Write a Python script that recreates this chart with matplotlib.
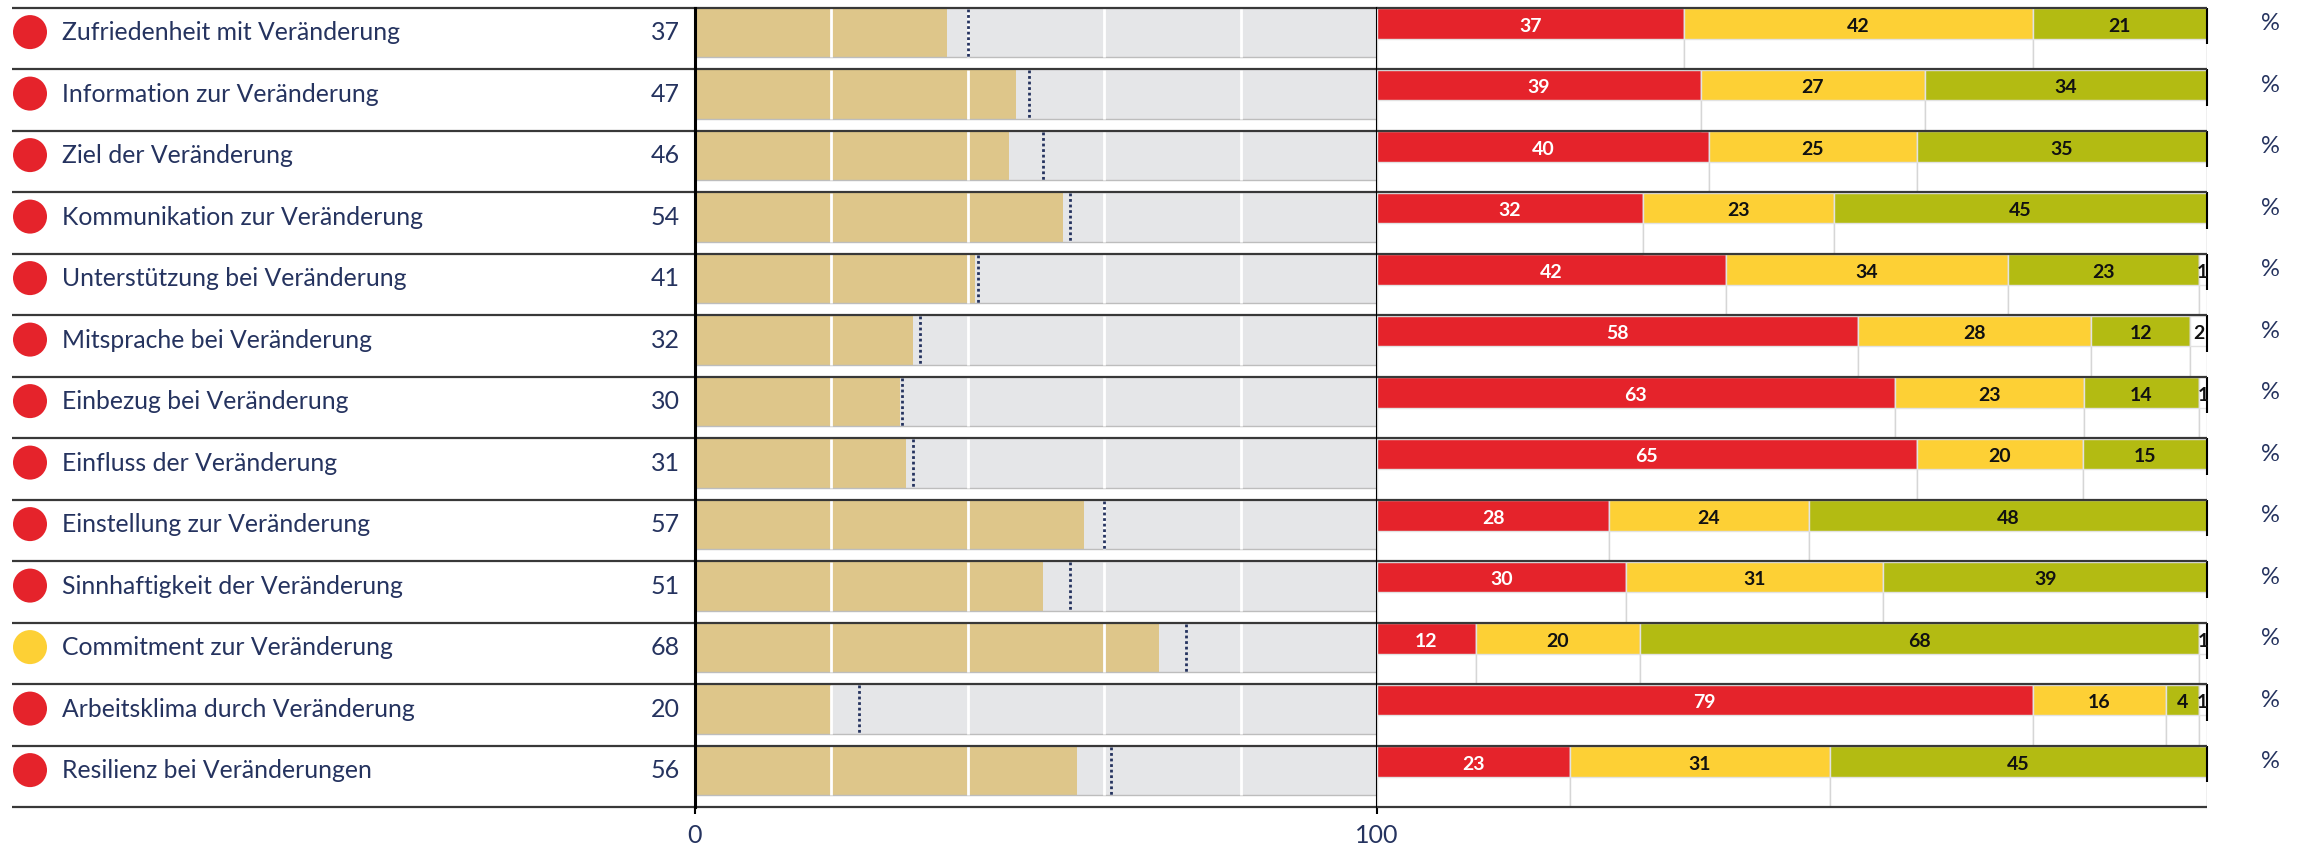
import matplotlib.pyplot as plt
import numpy as np

plt.rcParams['font.family'] = ['Lato', 'DejaVu Sans']

labels = ["Zufriedenheit mit Veränderung", "Information zur Veränderung", "Ziel der Veränderung",
          "Kommunikation zur Veränderung", "Unterstützung bei Veränderung", "Mitsprache bei Veränderung",
          "Einbezug bei Veränderung", "Einfluss der Veränderung", "Einstellung zur Veränderung",
          "Sinnhaftigkeit der Veränderung", "Commitment zur Veränderung", "Arbeitsklima durch Veränderung",
          "Resilienz bei Veränderungen"]
scores = [37, 47, 46, 54, 41, 32, 30, 31, 57, 51, 68, 20, 56]
benchmark = [40, 49, 51, 55, 41.5, 33, 30.3, 32, 60, 55, 72, 24, 61]
status = ['red'] * 10 + ['yellow'] + ['red'] * 2

neg = [37, 39, 40, 32, 42, 58, 63, 65, 28, 30, 12, 79, 23]
mid = [42, 27, 25, 23, 34, 28, 23, 20, 24, 31, 20, 16, 31]
pos = [21, 34, 35, 45, 23, 12, 14, 15, 48, 39, 68, 4, 45]
rest = [0, 0, 0, 0, 1, 2, 1, 0, 0, 0, 1, 1, 0]

RED = '#E5232B'
YEL = '#FDD035'
GRN = '#B3BB12'
TAN = '#DEC68A'
GRAY = '#E5E6E8'
NAVY = '#25335F'
SEP = '#383838'

W, H = 2303, 848
n = len(labels)
y = np.arange(n)

fig = plt.figure(figsize=(W / 100, H / 100), dpi=100)
b = 1 - 807 / H
h = (807 - 7.5) / H
ax_lab = fig.add_axes([0, b, 695 / W, h])
ax_bar = fig.add_axes([695 / W, b, 682 / W, h])
ax_stk = fig.add_axes([1377 / W, b, 830 / W, h])

for ax in (ax_lab, ax_bar, ax_stk):
    ax.set_ylim(n, 0)

# label column
ax_lab.set_xlim(0, 695)
ax_lab.axis('off')
dot_col = {'red': RED, 'yellow': YEL}
ax_lab.scatter(np.full(n, 30), y + 0.40, s=600, c=[dot_col[s] for s in status], edgecolors='none')
for i in range(n):
    ax_lab.text(62, i + 0.53, labels[i], fontsize=17.8, color=NAVY, va='baseline')
    ax_lab.text(680, i + 0.53, str(scores[i]), fontsize=18, color=NAVY, va='baseline', ha='right')
ax_lab.hlines(np.arange(n + 1), 12, 695, color=SEP, lw=1.6, clip_on=False)

# score bars
ax_bar.set_xlim(0, 100)
ax_bar.barh(y + 0.41, 100, height=0.79, color=GRAY)
ax_bar.barh(y + 0.41, scores, height=0.79, color=TAN)
ax_bar.hlines(y + 0.805, 0, 100, color='#BDBDBD', lw=1)
for g in (20, 40, 60, 80):
    ax_bar.vlines(np.full(n, g), y + 0.015, y + 0.805, color='white', lw=2)
ax_bar.vlines(benchmark, y + 0.02, y + 0.80, colors=NAVY, linestyles=(0, (1, 1)), lw=2)
ax_bar.hlines(np.arange(n + 1), 0, 100, color=SEP, lw=1.6, clip_on=False, zorder=4)
for s in ('top', 'bottom'):
    ax_bar.spines[s].set_visible(False)
ax_bar.spines['left'].set_linewidth(2.2)
ax_bar.spines['right'].set_linewidth(1.5)
ax_bar.spines['left'].set_zorder(5)
ax_bar.spines['right'].set_zorder(5)
ax_bar.set_yticks([])
ax_bar.set_xticks([0, 100])
ax_bar.set_xticklabels(['0', '100'])
ax_bar.tick_params(axis='x', length=5, width=1.5, color='black', labelsize=18, labelcolor=NAVY, pad=7)

# distribution bars
ax_stk.set_xlim(0, 100)
ax_stk.axis('off')
segs = np.array([neg, mid, pos, rest], dtype=float)
tot = segs.sum(axis=0)
widths = segs / tot * 100
cols = [RED, YEL, GRN, 'white']
txtc = ['white', '#111111', '#111111', '#111111']
left = np.zeros(n)
for k in range(4):
    ax_stk.barh(y + 0.5, widths[k], left=left, height=1.0, color='white', edgecolor='#D6D6D6', lw=1)
    ax_stk.barh(y + 0.26, widths[k], left=left, height=0.5, color=cols[k], edgecolor='#E2E2E2', lw=1)
    for i in range(n):
        if segs[k, i] > 0:
            ax_stk.text(left[i] + widths[k, i] / 2, i + 0.395, str(int(segs[k, i])), ha='center',
                        va='baseline', fontsize=14, fontweight='bold', color=txtc[k], clip_on=False)
    left += widths[k]
ax_stk.vlines(np.full(n, 100), y, y + 0.6, color='black', lw=1.5, clip_on=False)
ax_stk.hlines(np.arange(n + 1), 0, 100, color=SEP, lw=1.6, clip_on=False, zorder=4)
for i in range(n):
    ax_stk.text(107.6, i + 0.37, '%', fontsize=17, color=NAVY, ha='center', va='baseline', clip_on=False)

fig.savefig('out.png', dpi=100)
